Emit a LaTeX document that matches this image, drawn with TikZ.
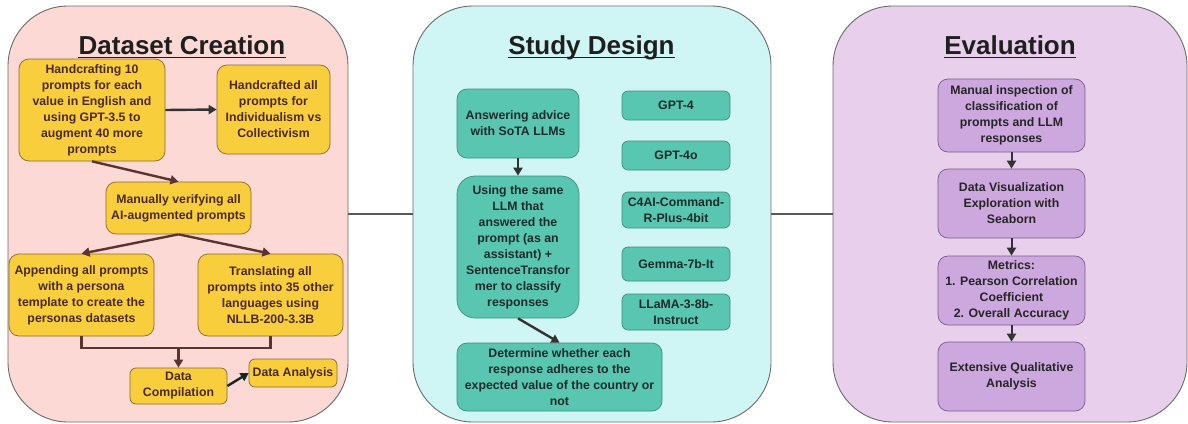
\documentclass[tikz,border=0pt]{standalone}
\usepackage{fontspec}
\setmainfont{Liberation Sans}
\usetikzlibrary{arrows.meta}
\definecolor{pinkbg}{HTML}{FCD9D4}
\definecolor{cyanbg}{HTML}{CFF5F5}
\definecolor{lilacbg}{HTML}{E8CFEC}
\definecolor{yel}{HTML}{F9CE3C}
\definecolor{yelborder}{HTML}{8B6A30}
\definecolor{teal}{HTML}{58C6B0}
\definecolor{tealborder}{HTML}{3F8F80}
\definecolor{purp}{HTML}{CDA8DF}
\definecolor{purpborder}{HTML}{7A5A8A}
\definecolor{browntext}{HTML}{4A2A26}
\definecolor{brownarrow}{HTML}{5A3530}
\definecolor{darktext}{HTML}{1E2B2B}
\definecolor{panelborder}{HTML}{6B6B6B}
\tikzset{
  panel/.style={draw=panelborder, line width=0.9pt, rounded corners=60pt, minimum height=416pt, inner sep=0pt},
  ttl/.style={anchor=base, inner sep=0pt, font=\fontsize{26}{30}\selectfont\bfseries, text=black!88},
  boxtxt/.style={align=center, inner sep=2pt, font=\fontsize{12.3}{16}\selectfont\bfseries},
  ybox/.style={boxtxt, draw=yelborder, fill=yel, text=browntext, line width=0.7pt, rounded corners=10pt},
  tbox/.style={boxtxt, draw=tealborder, fill=teal, text=darktext, line width=0.7pt, rounded corners=10pt},
  gbox/.style={boxtxt, draw=tealborder, fill=teal, text=darktext, line width=0.7pt, rounded corners=6pt, minimum width=108pt},
  pbox/.style={boxtxt, draw=purpborder, fill=purp, text=black!85, line width=0.7pt, rounded corners=10pt, minimum width=147pt, minimum height=69pt},
  barrow/.style={draw=brownarrow, line width=2.4pt, -{Triangle[length=8pt,width=9pt]}},
  barline/.style={draw=brownarrow, line width=2.4pt},
  darrow/.style={draw=black!80, line width=2pt, -{Triangle[length=8pt,width=9pt]}},
  link/.style={draw=black!65, line width=1.3pt}
}
\begin{document}
\begin{tikzpicture}[x=1pt, y=-1pt]
\useasboundingbox (0,0) rectangle (1188,423);
% panels
\node[panel, fill=pinkbg, minimum width=340pt] (P1) at (178,214) {};
\node[panel, fill=cyanbg, minimum width=358pt] (P2) at (592,214) {};
\node[panel, fill=lilacbg, minimum width=354pt] (P3) at (1010,214) {};
\draw[link] (P1.east) -- (P2.west);
\draw[link] (P2.east) -- (P3.west);
% titles
\node[ttl] (T1) at (182,54) {Dataset Creation};
\node[ttl] (T2) at (591.5,54) {Study Design};
\node[ttl] (T3) at (1010,54) {Evaluation};
\foreach \t in {T1,T2,T3}{\draw[line width=1.5pt, black!88] ([yshift=-3.5pt]\t.base west) -- ([yshift=-3.5pt]\t.base east);}
% left panel
\node[ybox, minimum width=146pt, minimum height=102pt] (b1) at (92,110) {Handcrafting 10\\prompts for each\\value in English and\\using GPT-3.5 to\\augment 40 more\\prompts};
\node[ybox, minimum width=113pt, minimum height=89pt] (b2) at (273.5,109.5) {Handcrafted all\\prompts for\\Individualism vs\\Collectivism};
\node[ybox, minimum width=145pt, minimum height=52pt] (b3) at (178.5,208) {Manually verifying all\\AI-augmented prompts};
\node[ybox, minimum width=145pt, minimum height=82pt] (b4) at (81.5,295) {Appending all prompts\\with a persona\\template to create the\\personas datasets};
\node[ybox, minimum width=145pt, minimum height=82pt] (b5) at (270.5,295) {Translating all\\prompts into 35 other\\languages using\\NLLB-200-3.3B};
\node[ybox, minimum width=97pt, minimum height=36pt, rounded corners=6pt] (b6) at (178.5,386) {Data\\Compilation};
\node[ybox, minimum width=88pt, minimum height=28pt, rounded corners=6pt] (b7) at (293,373) {Data Analysis};
\coordinate (mj) at (178.5,348);
\draw[darrow, line width=2.4pt, draw=black!80] (b1.east) -- (b2.west);
\draw[barrow] (b1.south) -- (b3.north);
\draw[barrow] (b3.south) -- (b4.north);
\draw[barrow] (b3.south) -- (b5.north);
\draw[barline, line join=miter] (b4.south) -- (b4.south |- mj) -- (b5.south |- mj) -- (b5.south);
\draw[barrow] (mj) -- (b6.north);
\draw[darrow, draw=black!80!teal, line width=2.4pt] (b6.east) -- (b7.west);
% middle panel
\node[tbox, minimum width=122pt, minimum height=69pt] (m1) at (518,123.5) {Answering advice\\with SoTA LLMs};
\node[tbox, minimum width=122pt, minimum height=142pt, rounded corners=18pt] (m2) at (518,247) {Using the same\\LLM that\\answered the\\prompt (as an\\assistant) +\\SentenceTransfor\\mer to classify\\responses};
\node[tbox, minimum width=205pt, minimum height=68pt] (m3) at (559.5,377) {Determine whether each\\response adheres to the\\expected value of the country or\\not};
\node[gbox, minimum height=29pt] (g1) at (676,105.5) {GPT-4};
\node[gbox, minimum height=29pt] (g2) at (676,155.5) {GPT-4o};
\node[gbox, minimum height=36pt] (g3) at (676,210) {C4AI-Command-\\R-Plus-4bit};
\node[gbox, minimum height=34pt] (g4) at (676,264) {Gemma-7b-It};
\node[gbox, minimum height=36pt] (g5) at (676,312) {LLaMA-3-8b-\\Instruct};
\draw[darrow] (m1.south) -- (m2.north);
\draw[darrow, line width=2.4pt] (m2.south) -- (m3.north);
% right panel
\node[pbox, minimum height=73pt] (e1) at (1011.5,115.5) {Manual inspection of\\classification of\\prompts and LLM\\responses};
\node[pbox] (e2) at (1011.5,203.5) {Data Visualization\\Exploration with\\Seaborn};
\node[pbox] (e3) at (1011.5,290.5) {Metrics:\\1. Pearson Correlation\\Coefficient\\2. Overall Accuracy};
\node[pbox] (e4) at (1011.5,376.5) {Extensive Qualitative\\Analysis};
\draw[darrow] (e1.south) -- (e2.north);
\draw[darrow] (e2.south) -- (e3.north);
\draw[darrow] (e3.south) -- (e4.north);
\end{tikzpicture}
\end{document}
